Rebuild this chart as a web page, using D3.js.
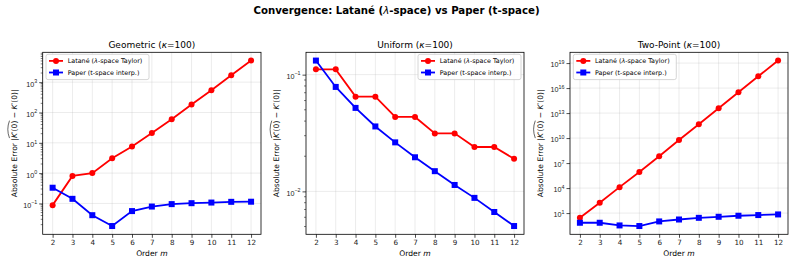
<!DOCTYPE html>
<html>
<head>
<meta charset="utf-8">
<script src="https://cdn.jsdelivr.net/npm/d3@7"></script>
<style>
  html, body { margin: 0; padding: 0; background: #fff; }
  svg { display: block; font-family: "DejaVu Sans", sans-serif; }
</style>
</head>
<body>
<svg id="chart" width="793" height="263"></svg>
<script>
// ---- data ----
const orders = [2, 3, 4, 5, 6, 7, 8, 9, 10, 11, 12];
const xTicks = [2, 3, 4, 5, 6, 7, 8, 9, 10, 11, 12];

const geoLatane = [0.088, 0.81, 1.0, 3.1, 7.6, 21, 60, 182, 545, 1700, 5150];
const geoPaper  = [0.33, 0.142, 0.041, 0.018, 0.056, 0.079, 0.095, 0.102, 0.107, 0.113, 0.114];

const uniLatane = [0.111, 0.111, 0.0648, 0.0648, 0.0434, 0.0434, 0.0314, 0.0314, 0.024, 0.024, 0.019];
const uniPaper  = [0.132, 0.0785, 0.0519, 0.036, 0.0263, 0.0196, 0.0149, 0.01135, 0.0088, 0.00666, 0.00505];

const twoLatane = [2.8, 172, 1.3e4, 8.5e5, 6.5e7, 5.9e9, 4.6e11, 3.8e13, 3.2e15, 2.6e17, 2.0e19];
const twoPaper  = [0.69, 0.69, 0.33, 0.28, 1.0, 1.7, 2.7, 3.6, 4.8, 5.8, 6.9];

const panelNames = ["Geometric", "Uniform", "Two-Point"];
const kappa = "100";
const seriesNames = ["Latané (", "λ", "-space Taylor)"]; // split for italic λ
const paperName = "Paper (t-space interp.)";

const geoYExp = [-1, 0, 1, 2, 3];
const uniYExp = [-2, -1];
const twoYExp = [1, 4, 7, 10, 13, 16, 19];

const figTitle = ["Convergence: Latané (", "λ", "-space) vs Paper (t-space)"];

// ---- layout ----
const svg = d3.select("#chart");
const plotTop = 52.3, plotBottom = 234.3;
const panels = [
  { left: 42.7, right: 261, lat: geoLatane, pap: geoPaper, yExp: geoYExp, minor: true, legend: "left", ylabOff: 26 },
  { left: 306, right: 524, lat: uniLatane, pap: uniPaper, yExp: uniYExp, minor: true, legend: "right", ylabOff: 27 },
  { left: 570, right: 788, lat: twoLatane, pap: twoPaper, yExp: twoYExp, minor: false, legend: "left", ylabOff: 27.5 }
];
const RED = "#ff0000", BLUE = "#0000ff";
const tickFont = 7.2, labelFont = 7.6, titleFont = 9, legendFont = 6.4;

// figure title
const ft = svg.append("text").attr("x", 396.5).attr("y", 14)
  .attr("text-anchor", "middle").attr("font-size", 10.2).attr("font-weight", "bold").attr("fill", "#000");
ft.append("tspan").text(figTitle[0]);
ft.append("tspan").attr("font-style", "italic").attr("font-weight", "normal").text(figTitle[1]);
ft.append("tspan").text(figTitle[2]);

panels.forEach((p, i) => {
  const g = svg.append("g");
  const x = d3.scaleLinear().domain([1.5, 12.5]).range([p.left, p.right]);
  const allVals = p.lat.concat(p.pap);
  const lmin = Math.log10(d3.min(allVals)), lmax = Math.log10(d3.max(allVals));
  const m = (lmax - lmin) * 0.05;
  const y = d3.scaleLog().domain([Math.pow(10, lmin - m), Math.pow(10, lmax + m)]).range([plotBottom, plotTop]);

  // grid
  const grid = g.append("g").attr("stroke", "#b0b0b0").attr("stroke-opacity", 0.35).attr("stroke-width", 0.7);
  xTicks.forEach(t => grid.append("line").attr("x1", x(t)).attr("x2", x(t)).attr("y1", plotTop).attr("y2", plotBottom));
  p.yExp.forEach(e => grid.append("line").attr("x1", p.left).attr("x2", p.right).attr("y1", y(Math.pow(10, e))).attr("y2", y(Math.pow(10, e))));

  // x axis
  const xAxis = d3.axisBottom(x).tickValues(xTicks).tickSize(3.5).tickPadding(2).tickFormat(d3.format("d"));
  const xg = g.append("g").attr("transform", `translate(0,${plotBottom})`).call(xAxis);
  xg.select(".domain").remove();
  xg.selectAll("line").attr("stroke", "#000").attr("stroke-width", 0.7);
  xg.selectAll("text").attr("font-size", tickFont).attr("font-family", "DejaVu Sans").attr("fill", "#222");

  // y axis major ticks
  const yg = g.append("g").attr("transform", `translate(${p.left},0)`);
  const yAxis = d3.axisLeft(y).tickValues(p.yExp.map(e => Math.pow(10, e))).tickSize(3.5).tickFormat("");
  yg.call(yAxis);
  yg.select(".domain").remove();
  yg.selectAll("line").attr("stroke", "#000").attr("stroke-width", 0.7);
  // labels with superscripts
  p.yExp.forEach(e => {
    const t = yg.append("text").attr("x", -5.5).attr("y", y(Math.pow(10, e)) + 4.4)
      .attr("text-anchor", "end").attr("font-size", tickFont).attr("fill", "#222");
    t.append("tspan").text("10");
    t.append("tspan").attr("dy", -3.6).attr("font-size", tickFont * 0.74)
      .text(e < 0 ? "\u2212" + Math.abs(e) : String(e));
  });
  // minor ticks
  if (p.minor) {
    const [d0, d1] = y.domain();
    const minors = [];
    for (let e = Math.floor(Math.log10(d0)); e <= Math.ceil(Math.log10(d1)); e++) {
      for (let k = 2; k <= 9; k++) {
        const v = k * Math.pow(10, e);
        if (v >= d0 && v <= d1) minors.push(v);
      }
    }
    minors.forEach(v => yg.append("line").attr("x1", 0).attr("x2", -2).attr("y1", y(v)).attr("y2", y(v))
      .attr("stroke", "#000").attr("stroke-width", 0.5));
  }

  // series
  const line = d3.line().x((d, j) => x(orders[j])).y(d => y(d));
  g.append("path").datum(p.lat).attr("d", line).attr("fill", "none").attr("stroke", RED).attr("stroke-width", 1.8);
  g.selectAll(".dl").data(p.lat).enter().append("circle")
    .attr("cx", (d, j) => x(orders[j])).attr("cy", d => y(d)).attr("r", 3).attr("fill", RED);
  g.append("path").datum(p.pap).attr("d", line).attr("fill", "none").attr("stroke", BLUE).attr("stroke-width", 1.8);
  g.selectAll(".dp").data(p.pap).enter().append("rect")
    .attr("x", (d, j) => x(orders[j]) - 3).attr("y", d => y(d) - 3).attr("width", 6).attr("height", 6).attr("fill", BLUE);

  // spines
  g.append("rect").attr("x", p.left).attr("y", plotTop).attr("width", p.right - p.left).attr("height", plotBottom - plotTop)
    .attr("fill", "none").attr("stroke", "#000").attr("stroke-width", 0.8);

  // panel title
  const pt = g.append("text").attr("x", (p.left + p.right) / 2).attr("y", 47.5)
    .attr("text-anchor", "middle").attr("font-size", titleFont).attr("fill", "#000");
  pt.append("tspan").text(panelNames[i] + " (");
  pt.append("tspan").attr("font-style", "italic").text("κ");
  pt.append("tspan").text("=" + kappa + ")");

  // x label
  const xl = g.append("text").attr("x", (p.left + p.right) / 2).attr("y", 255.5)
    .attr("text-anchor", "middle").attr("font-size", labelFont).attr("fill", "#000");
  xl.append("tspan").text("Order ");
  xl.append("tspan").attr("font-style", "italic").text("m");

  // y label (rotated) with widehat
  const cy = (plotTop + plotBottom) / 2;
  const yl = g.append("g").attr("transform", `translate(${p.left - p.ylabOff},${cy}) rotate(-90)`);
  const yt = yl.append("text").attr("x", 0).attr("y", 0).attr("font-size", labelFont).attr("fill", "#000");
  yt.append("tspan").text("Absolute Error |");
  yt.append("tspan").attr("font-style", "italic").text("K");
  yt.append("tspan").text("′(0)");
  yt.append("tspan").text(" \u2212 ");
  yt.append("tspan").attr("font-style", "italic").text("K");
  yt.append("tspan").text("′(0)|");
  const total = yt.node().getComputedTextLength();
  yt.attr("x", -total / 2);
  // hat extent: measure prefix
  const tmp = yl.append("text").attr("font-size", labelFont).attr("visibility", "hidden");
  tmp.text("Absolute Error |");
  const w0 = tmp.node().getComputedTextLength();
  tmp.text("");
  tmp.append("tspan").attr("font-style", "italic").text("K");
  tmp.append("tspan").text("′(0)");
  const w1 = tmp.node().getComputedTextLength();
  tmp.remove();
  const hx0 = -total / 2 + w0, hx1 = hx0 + w1;
  yl.append("path")
    .attr("d", `M${hx0},${-7.2} Q${(hx0 + hx1) / 2},${-10.6} ${hx1},${-7.2}`)
    .attr("fill", "none").attr("stroke", "#000").attr("stroke-width", 0.6);

  // legend
  const lw = 103, lh = 25.3;
  const lx = p.legend === "left" ? p.left + 3.3 : p.right - 3 - lw;
  const ly = plotTop + 2;
  const lg = g.append("g").attr("transform", `translate(${lx},${ly})`);
  lg.append("rect").attr("width", lw).attr("height", lh).attr("rx", 2)
    .attr("fill", "#fff").attr("fill-opacity", 0.85).attr("stroke", "#cccccc").attr("stroke-width", 0.8);
  const rows = [6.6, 18.2];
  lg.append("line").attr("x1", 3).attr("x2", 17).attr("y1", rows[0]).attr("y2", rows[0]).attr("stroke", RED).attr("stroke-width", 1.8);
  lg.append("circle").attr("cx", 10).attr("cy", rows[0]).attr("r", 3).attr("fill", RED);
  const t1 = lg.append("text").attr("x", 21.7).attr("y", rows[0] + 2.3).attr("font-size", legendFont).attr("fill", "#000");
  t1.append("tspan").text(seriesNames[0]);
  t1.append("tspan").attr("font-style", "italic").text(seriesNames[1]);
  t1.append("tspan").text(seriesNames[2]);
  lg.append("line").attr("x1", 3).attr("x2", 17).attr("y1", rows[1]).attr("y2", rows[1]).attr("stroke", BLUE).attr("stroke-width", 1.8);
  lg.append("rect").attr("x", 7).attr("y", rows[1] - 3).attr("width", 6).attr("height", 6).attr("fill", BLUE);
  lg.append("text").attr("x", 21.7).attr("y", rows[1] + 2.3).attr("font-size", legendFont).attr("fill", "#000").text(paperName);
});
</script>
</body>
</html>
